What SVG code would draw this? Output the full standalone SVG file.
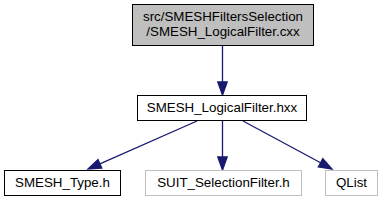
<svg xmlns="http://www.w3.org/2000/svg" width="383" height="201" viewBox="0 0 383 201">
<style>
text{font-family:"Liberation Sans",Arial,sans-serif;font-size:13.33px;text-anchor:middle;fill:#000}
.n{fill:#fff;stroke:#000;stroke-width:1}
.g{fill:#fff;stroke:#bfbfbf;stroke-width:1}
.e{fill:none;stroke:#191970;stroke-width:1.3}
.a{fill:#191970;stroke:#191970;stroke-width:1.3}
</style>
<rect width="383" height="201" fill="#fff"/>
<g id="edges">
<path class="e" d="M222.5,46V82"/>
<polygon class="a" points="217.8,82 222.5,95 227.2,82"/>
<path class="e" d="M197,121L99.9,163.8"/>
<polygon class="a" points="101.8,168.1 88,169 98,159.5"/>
<path class="e" d="M222.5,121V157"/>
<polygon class="a" points="217.8,157 222.5,170 227.2,157"/>
<path class="e" d="M243,121L320.6,162.8"/>
<polygon class="a" points="318.3,166.9 332,169 322.8,158.7"/>
</g>
<g id="node_top">
<rect x="132.5" y="4.5" width="181" height="41" fill="#bfbfbf" stroke="#000"/>
<text x="223" y="21">src/SMESHFiltersSelection</text>
<text x="223" y="36">/SMESH_LogicalFilter.cxx</text>
</g>
<g id="node_hxx">
<rect class="n" x="137.5" y="95.5" width="169" height="25"/>
<text x="222" y="112">SMESH_LogicalFilter.hxx</text>
</g>
<g id="node_type">
<rect class="n" x="4.5" y="170.5" width="116" height="25"/>
<text x="62.5" y="187">SMESH_Type.h</text>
</g>
<g id="node_suit">
<rect class="g" x="145.5" y="170.5" width="156" height="25"/>
<text x="223.5" y="187">SUIT_SelectionFilter.h</text>
</g>
<g id="node_qlist">
<rect class="g" x="325.5" y="170.5" width="52" height="25"/>
<text x="351.5" y="187">QList</text>
</g>
</svg>
